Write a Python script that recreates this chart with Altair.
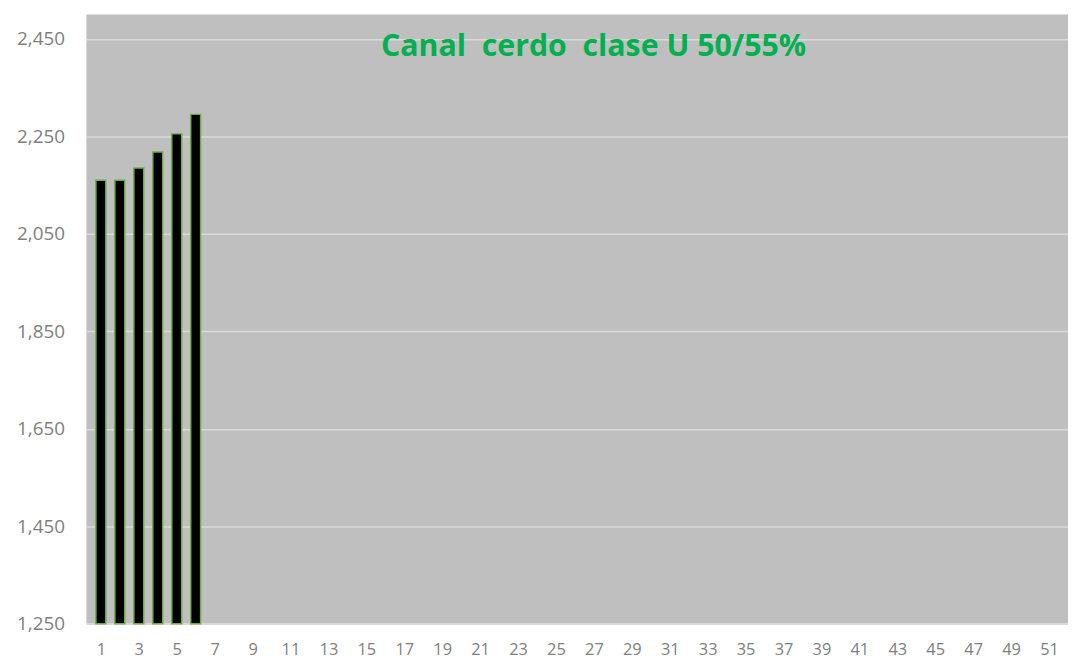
import altair as alt
import pandas as pd

weeks = [1, 2, 3, 4, 5, 6]
prices = [2160, 2160, 2185, 2218, 2255, 2295]
base_value = 1250
x_ticks = list(range(1, 52, 2))
y_ticks = [1250, 1450, 1650, 1850, 2050, 2250, 2450]
title_text = "Canal  cerdo  clase U 50/55%"

df = pd.DataFrame({"week": weeks, "price": prices, "base": [base_value] * len(weeks)})

FONT = "Open Sans"

x_enc = alt.X(
    "week:Q",
    scale=alt.Scale(domain=[0.5, 51.74], nice=False, zero=False),
    axis=alt.Axis(
        values=x_ticks, format="d", grid=False, ticks=False, domain=True,
        domainColor="#D9D9D9", domainWidth=1.5,
        labelColor="#808080", labelFont=FONT, labelFontSize=16.5,
        labelPadding=18, title=None, labelFlush=False,
    ),
)
y_enc = alt.Y(
    "price:Q",
    scale=alt.Scale(domain=[1250, 2500], nice=False, zero=False),
    axis=alt.Axis(
        values=y_ticks, format=",.0f", grid=True, gridColor="#D9D9D9", gridWidth=1.5,
        ticks=False, domain=False,
        labelColor="#808080", labelFont=FONT, labelFontSize=19,
        labelPadding=22, title=None,
    ),
)

bars = alt.Chart(df).mark_bar(
    width=10, color="#000000", stroke="#70AD47", strokeWidth=1.5
).encode(x=x_enc, y=y_enc, y2="base:Q")

title = alt.Chart(pd.DataFrame({"t": [title_text.replace("  ", " \u00a0")]})).mark_text(
    font=FONT, fontSize=30.5, fontWeight="bold", color="#00B050",
    align="center", baseline="alphabetic",
).encode(text="t:N", x=alt.value(511), y=alt.value(42))

chart = alt.layer(bars, title).properties(
    width=989, height=614,
    autosize=alt.AutoSizeParams(type="none"),
    padding={"left": 79, "top": 4, "right": 0, "bottom": 40},
    background="#FFFFFF",
).configure_view(fill="#BFBFBF", stroke=None)

chart.save("out.html", embed_options={"renderer": "svg", "actions": False})
